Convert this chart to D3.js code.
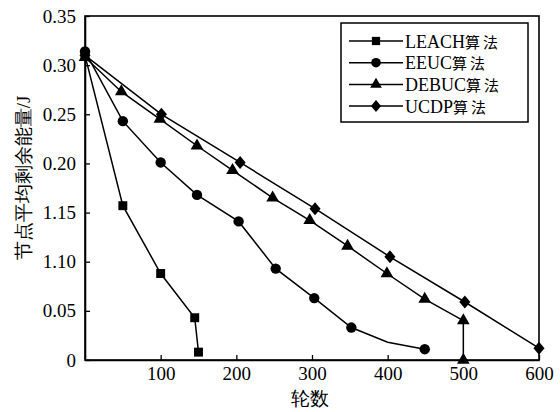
<!DOCTYPE html>
<html>
<head>
<meta charset="utf-8">
<script src="https://cdn.jsdelivr.net/npm/d3@7"></script>
<style>
  body { margin: 0; background: #fff; }
  text { font-family: "Liberation Serif", "Times New Roman", serif; }
</style>
</head>
<body>
<script>
// rounds on x, residual energy on y
var leachX = [0, 50, 100, 145, 150];
var leachY = [0.310, 0.157, 0.088, 0.043, 0.008];
var eeucX = [0, 50, 100, 148, 203, 252, 303, 352, 400, 449];
var eeucY = [0.314, 0.243, 0.201, 0.168, 0.141, 0.093, 0.063, 0.033, 0.018, 0.011];
var eeucNoMark = [400];
var debucX = [0, 48, 99, 148, 195, 248, 297, 347, 399, 449, 500, 500];
var debucY = [0.308, 0.273, 0.245, 0.218, 0.193, 0.165, 0.142, 0.116, 0.088, 0.062, 0.040, 0];
var ucdpX = [0, 101, 205, 304, 403, 502, 600];
var ucdpY = [0.310, 0.250, 0.201, 0.154, 0.105, 0.059, 0.012];

var xTicks = [100, 200, 300, 400, 500, 600];
var yTicks = [0, 0.05, 0.10, 0.15, 0.20, 0.25, 0.30, 0.35];
var yTickLabels = ["0", "0.05", "1.10", "1.15", "0.20", "0.25", "0.30", "0.35"];

// squarish diamond, a bit wider than d3's own
var fatDiamond = {
  draw: function(ctx, size) {
    var h = Math.sqrt(size / 1.7) , w = h * 0.85;
    ctx.moveTo(0, -h); ctx.lineTo(w, 0); ctx.lineTo(0, h); ctx.lineTo(-w, 0); ctx.closePath();
  }
};

var series = [
  {name: "LEACH", xs: leachX, ys: leachY, sym: d3.symbolSquare, size: 80, skip: []},
  {name: "EEUC", xs: eeucX, ys: eeucY, sym: d3.symbolCircle, size: 85, skip: eeucNoMark},
  {name: "DEBUC", xs: debucX, ys: debucY, sym: d3.symbolTriangle, size: 70, skip: []},
  {name: "UCDP", xs: ucdpX, ys: ucdpY, sym: fatDiamond, size: 72, skip: []}
];

var svg = d3.select("body").append("svg")
  .attr("width", 560)
  .attr("height", 412);

var pLeft = 85, pRight = 539, pTop = 16, pBottom = 360;

var x = d3.scaleLinear().domain([0, 600]).range([pLeft, pRight]);
var y = d3.scaleLinear().domain([0, 0.35]).range([pBottom, pTop]);

// frame
svg.append("rect")
  .attr("x", pLeft).attr("y", pTop)
  .attr("width", pRight - pLeft).attr("height", pBottom - pTop)
  .attr("fill", "none").attr("stroke", "#000").attr("stroke-width", 1.6);

var xAxis = svg.append("g")
  .attr("transform", "translate(0," + pBottom + ")")
  .call(d3.axisBottom(x).tickValues(xTicks).tickSizeInner(-5).tickSizeOuter(0).tickPadding(7));
var yAxis = svg.append("g")
  .attr("transform", "translate(" + pLeft + ",0)")
  .call(d3.axisLeft(y).tickValues(yTicks).tickSizeInner(-5).tickSizeOuter(0).tickPadding(9)
    .tickFormat(function(d, i) { return yTickLabels[i]; }));

[xAxis, yAxis].forEach(function(g) {
  g.select(".domain").attr("stroke-width", 1.6);
  g.selectAll(".tick line").attr("stroke-width", 1.3);
  g.selectAll(".tick text")
    .attr("font-family", "'Liberation Serif', serif")
    .attr("font-size", 19)
    .attr("fill", "#000");
});

svg.append("text")
  .attr("x", 310)
  .attr("y", 405)
  .attr("text-anchor", "middle")
  .attr("font-family", "'Noto Sans CJK SC', sans-serif")
  .attr("font-size", 19)
  .text("轮数");

svg.append("text")
  .attr("transform", "translate(30,178) rotate(-90)")
  .attr("text-anchor", "middle")
  .attr("font-family", "'Noto Sans CJK SC', sans-serif")
  .attr("font-size", 19)
  .attr("fill", "#000")
  .text("节点平均剩余能量/J");

var line = d3.line()
  .x(function(d) { return x(d[0]); })
  .y(function(d) { return y(d[1]); });

series.forEach(function(s) {
  var pts = s.xs.map(function(v, i) { return [v, s.ys[i]]; });
  svg.append("path")
    .datum(pts)
    .attr("d", line)
    .attr("fill", "none")
    .attr("stroke", "#000")
    .attr("stroke-width", 1.5);
  svg.selectAll(null)
    .data(pts.filter(function(p) { return s.skip.indexOf(p[0]) < 0; }))
    .enter().append("path")
    .attr("d", d3.symbol().type(s.sym).size(s.size))
    .attr("transform", function(d) { return "translate(" + x(d[0]) + "," + y(d[1]) + ")"; })
    .attr("fill", "#000");
});

// legend
var lg = svg.append("g");
lg.append("rect")
  .attr("x", 341).attr("y", 23)
  .attr("width", 187).attr("height", 99)
  .attr("fill", "#fff").attr("stroke", "#000").attr("stroke-width", 1.5);

series.forEach(function(s, i) {
  var yy = 41 + i * 21.7;
  lg.append("line")
    .attr("x1", 349).attr("x2", 403)
    .attr("y1", yy).attr("y2", yy)
    .attr("stroke", "#000").attr("stroke-width", 1.5);
  lg.append("path")
    .attr("d", d3.symbol().type(s.sym).size(s.size * 0.85))
    .attr("transform", "translate(376," + yy + ")")
    .attr("fill", "#000");
  lg.append("text")
    .attr("x", 405).attr("y", yy + 6.5)
    .attr("font-size", 18)
    .text(s.name)
    .append("tspan")
    .attr("font-family", "'Noto Sans CJK SC', sans-serif")
    .attr("font-size", 15)
    .attr("letter-spacing", 3)
    .text("算法");
});
</script>
</body>
</html>
